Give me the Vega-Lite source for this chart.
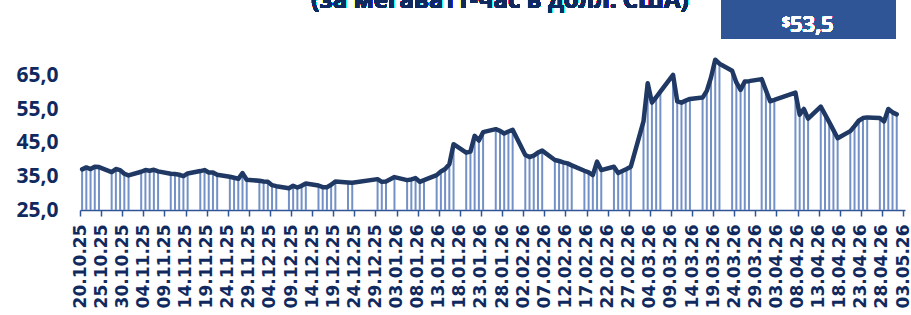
{
  "$schema": "https://vega.github.io/schema/vega-lite/v6.json",
  "autosize": {"type": "none"},
  "padding": {"left": 80, "top": 59, "right": 6, "bottom": 105},
  "width": 825,
  "height": 151,
  "config": {"view": {"stroke": null}, "axis": {"labelOverlap": false, "labelSeparation": 0}},
  "data": {"values": [
    {"date": "2025-10-20", "value": 37.1}, {"date": "2025-10-21", "value": 37.7}, {"date": "2025-10-22", "value": 37.2}, {"date": "2025-10-23", "value": 37.9}, {"date": "2025-10-24", "value": 37.8},
    {"date": "2025-10-27", "value": 36.3}, {"date": "2025-10-28", "value": 37.2}, {"date": "2025-10-29", "value": 36.9}, {"date": "2025-10-30", "value": 35.8}, {"date": "2025-10-31", "value": 35.3},
    {"date": "2025-11-03", "value": 36.4}, {"date": "2025-11-04", "value": 36.9}, {"date": "2025-11-05", "value": 36.7}, {"date": "2025-11-06", "value": 37.0}, {"date": "2025-11-07", "value": 36.5},
    {"date": "2025-11-10", "value": 35.8}, {"date": "2025-11-11", "value": 35.7}, {"date": "2025-11-12", "value": 35.5}, {"date": "2025-11-13", "value": 35.1}, {"date": "2025-11-14", "value": 35.9},
    {"date": "2025-11-17", "value": 36.6}, {"date": "2025-11-18", "value": 36.9}, {"date": "2025-11-19", "value": 36.2}, {"date": "2025-11-20", "value": 36.2}, {"date": "2025-11-21", "value": 35.5},
    {"date": "2025-11-24", "value": 34.9}, {"date": "2025-11-25", "value": 34.6}, {"date": "2025-11-26", "value": 34.3}, {"date": "2025-11-27", "value": 36.0}, {"date": "2025-11-28", "value": 34.0},
    {"date": "2025-12-01", "value": 33.7}, {"date": "2025-12-02", "value": 33.5}, {"date": "2025-12-03", "value": 33.4}, {"date": "2025-12-04", "value": 32.4}, {"date": "2025-12-05", "value": 32.1},
    {"date": "2025-12-08", "value": 31.5}, {"date": "2025-12-09", "value": 32.2}, {"date": "2025-12-10", "value": 31.7}, {"date": "2025-12-11", "value": 32.2}, {"date": "2025-12-12", "value": 32.9},
    {"date": "2025-12-15", "value": 32.3}, {"date": "2025-12-16", "value": 31.8}, {"date": "2025-12-17", "value": 31.8}, {"date": "2025-12-18", "value": 32.5}, {"date": "2025-12-19", "value": 33.5},
    {"date": "2025-12-22", "value": 33.2}, {"date": "2025-12-23", "value": 33.1},
    {"date": "2025-12-29", "value": 34.2}, {"date": "2025-12-30", "value": 33.4}, {"date": "2025-12-31", "value": 33.5}, {"date": "2026-01-02", "value": 34.8},
    {"date": "2026-01-05", "value": 33.9}, {"date": "2026-01-06", "value": 34.1}, {"date": "2026-01-07", "value": 34.5}, {"date": "2026-01-08", "value": 33.4}, {"date": "2026-01-09", "value": 33.9},
    {"date": "2026-01-12", "value": 35.4}, {"date": "2026-01-13", "value": 36.5}, {"date": "2026-01-14", "value": 37.2}, {"date": "2026-01-15", "value": 38.6}, {"date": "2026-01-16", "value": 44.6},
    {"date": "2026-01-19", "value": 42.1}, {"date": "2026-01-20", "value": 42.4}, {"date": "2026-01-21", "value": 47.1}, {"date": "2026-01-22", "value": 45.7}, {"date": "2026-01-23", "value": 48.2},
    {"date": "2026-01-26", "value": 49.1}, {"date": "2026-01-27", "value": 48.6}, {"date": "2026-01-28", "value": 47.8}, {"date": "2026-01-29", "value": 48.4}, {"date": "2026-01-30", "value": 48.9},
    {"date": "2026-02-02", "value": 41.4}, {"date": "2026-02-03", "value": 40.8}, {"date": "2026-02-04", "value": 41.2}, {"date": "2026-02-05", "value": 42.1}, {"date": "2026-02-06", "value": 42.7},
    {"date": "2026-02-09", "value": 39.9}, {"date": "2026-02-10", "value": 39.6}, {"date": "2026-02-11", "value": 39.2}, {"date": "2026-02-12", "value": 38.9}, {"date": "2026-02-13", "value": 38.3},
    {"date": "2026-02-16", "value": 36.7}, {"date": "2026-02-17", "value": 36.2}, {"date": "2026-02-18", "value": 35.4}, {"date": "2026-02-19", "value": 39.4}, {"date": "2026-02-20", "value": 36.9},
    {"date": "2026-02-23", "value": 37.9}, {"date": "2026-02-24", "value": 36.0}, {"date": "2026-02-25", "value": 36.6}, {"date": "2026-02-26", "value": 37.2}, {"date": "2026-02-27", "value": 37.9},
    {"date": "2026-03-02", "value": 51.4}, {"date": "2026-03-03", "value": 62.8}, {"date": "2026-03-04", "value": 57.0}, {"date": "2026-03-05", "value": 58.6}, {"date": "2026-03-06", "value": 60.3},
    {"date": "2026-03-09", "value": 65.3}, {"date": "2026-03-10", "value": 57.4}, {"date": "2026-03-11", "value": 57.0}, {"date": "2026-03-12", "value": 57.6}, {"date": "2026-03-13", "value": 58.1},
    {"date": "2026-03-16", "value": 58.5}, {"date": "2026-03-17", "value": 60.5}, {"date": "2026-03-18", "value": 64.5}, {"date": "2026-03-19", "value": 69.8}, {"date": "2026-03-20", "value": 68.6},
    {"date": "2026-03-23", "value": 66.5}, {"date": "2026-03-24", "value": 63.0}, {"date": "2026-03-25", "value": 60.8}, {"date": "2026-03-26", "value": 63.3}, {"date": "2026-03-27", "value": 63.4},
    {"date": "2026-03-30", "value": 64.0}, {"date": "2026-03-31", "value": 60.7}, {"date": "2026-04-01", "value": 57.4}, {"date": "2026-04-02", "value": 57.8},
    {"date": "2026-04-07", "value": 60.0}, {"date": "2026-04-08", "value": 53.4}, {"date": "2026-04-09", "value": 55.1}, {"date": "2026-04-10", "value": 52.2},
    {"date": "2026-04-13", "value": 55.8}, {"date": "2026-04-14", "value": 53.5}, {"date": "2026-04-15", "value": 51.2}, {"date": "2026-04-16", "value": 48.8}, {"date": "2026-04-17", "value": 46.4},
    {"date": "2026-04-20", "value": 48.5}, {"date": "2026-04-21", "value": 50.0}, {"date": "2026-04-22", "value": 51.6}, {"date": "2026-04-23", "value": 52.4}, {"date": "2026-04-24", "value": 52.6},
    {"date": "2026-04-27", "value": 52.4}, {"date": "2026-04-28", "value": 51.4}, {"date": "2026-04-29", "value": 55.1}, {"date": "2026-04-30", "value": 54.1}, {"date": "2026-05-01", "value": 53.5}
  ]},
  "layer": [
    {
      "mark": {"type": "rule", "strokeWidth": 2, "color": "#7391c7"},
      "encoding": {
        "x": {
          "field": "date", "type": "temporal", "timeUnit": "utcyearmonthdate", "bandPosition": 0.5, "title": null,
          "scale": {"domain": [{"year": 2025, "month": 10, "date": 20, "utc": true}, {"year": 2026, "month": 5, "date": 3, "hours": 11, "utc": true}]},
          "axis": {
            "title": null,
            "tickCount": 200,
            "values": [
              {"year": 2025, "month": 10, "date": 20, "utc": true}, {"year": 2025, "month": 10, "date": 25, "utc": true}, {"year": 2025, "month": 10, "date": 30, "utc": true},
              {"year": 2025, "month": 11, "date": 4, "utc": true}, {"year": 2025, "month": 11, "date": 9, "utc": true}, {"year": 2025, "month": 11, "date": 14, "utc": true},
              {"year": 2025, "month": 11, "date": 19, "utc": true}, {"year": 2025, "month": 11, "date": 24, "utc": true}, {"year": 2025, "month": 11, "date": 29, "utc": true},
              {"year": 2025, "month": 12, "date": 4, "utc": true}, {"year": 2025, "month": 12, "date": 9, "utc": true}, {"year": 2025, "month": 12, "date": 14, "utc": true},
              {"year": 2025, "month": 12, "date": 19, "utc": true}, {"year": 2025, "month": 12, "date": 24, "utc": true}, {"year": 2025, "month": 12, "date": 29, "utc": true},
              {"year": 2026, "month": 1, "date": 3, "utc": true}, {"year": 2026, "month": 1, "date": 8, "utc": true}, {"year": 2026, "month": 1, "date": 13, "utc": true},
              {"year": 2026, "month": 1, "date": 18, "utc": true}, {"year": 2026, "month": 1, "date": 23, "utc": true}, {"year": 2026, "month": 1, "date": 28, "utc": true},
              {"year": 2026, "month": 2, "date": 2, "utc": true}, {"year": 2026, "month": 2, "date": 7, "utc": true}, {"year": 2026, "month": 2, "date": 12, "utc": true},
              {"year": 2026, "month": 2, "date": 17, "utc": true}, {"year": 2026, "month": 2, "date": 22, "utc": true}, {"year": 2026, "month": 2, "date": 27, "utc": true},
              {"year": 2026, "month": 3, "date": 4, "utc": true}, {"year": 2026, "month": 3, "date": 9, "utc": true}, {"year": 2026, "month": 3, "date": 14, "utc": true},
              {"year": 2026, "month": 3, "date": 19, "utc": true}, {"year": 2026, "month": 3, "date": 24, "utc": true}, {"year": 2026, "month": 3, "date": 29, "utc": true},
              {"year": 2026, "month": 4, "date": 3, "utc": true}, {"year": 2026, "month": 4, "date": 8, "utc": true}, {"year": 2026, "month": 4, "date": 13, "utc": true},
              {"year": 2026, "month": 4, "date": 18, "utc": true}, {"year": 2026, "month": 4, "date": 23, "utc": true}, {"year": 2026, "month": 4, "date": 28, "utc": true},
              {"year": 2026, "month": 5, "date": 3, "utc": true}
            ],
            "format": "%d.%m.%y",
            "labelAngle": 270,
            "labelAlign": "right",
            "labelBaseline": "middle",
            "labelFont": "DejaVu Sans",
            "labelFontWeight": "bold",
            "labelFontSize": 17,
            "labelColor": "#102a60",
            "labelPadding": 8,
            "labelOverlap": false,
            "labelSeparation": 0,
            "labelBound": false,
            "labelFlush": false,
            "domainColor": "#2F5597",
            "domainWidth": 1.5,
            "tickColor": "#2F5597",
            "tickWidth": 1.5,
            "tickSize": 6,
            "grid": false
          }
        },
        "y": {
          "field": "value", "type": "quantitative", "title": null,
          "scale": {"domain": [25, 70], "nice": false, "zero": false},
          "axis": {
            "title": null,
            "tickCount": 50,
            "values": [25, 35, 45, 55, 65],
            "labelExpr": "replace(format(datum.value, '.1f'), '.', ',')",
            "labelFont": "Open Sans",
            "labelFontWeight": "bold",
            "labelFontSize": 21,
            "labelColor": "#102a60",
            "labelPadding": 22,
            "labelOverlap": false,
            "labelFlush": false,
            "domain": false,
            "ticks": false,
            "grid": false
          }
        },
        "y2": {"datum": 25}
      }
    },
    {
      "mark": {"type": "line", "color": "#1F3864", "strokeWidth": 4.5, "strokeJoin": "round", "strokeCap": "round"},
      "encoding": {
        "x": {"field": "date", "type": "temporal", "timeUnit": "utcyearmonthdate", "bandPosition": 0.5, "title": null},
        "y": {"field": "value", "type": "quantitative", "title": null}
      }
    },
    {
      "mark": {"type": "rect", "color": "#2F5597"},
      "encoding": {
        "x": {"datum": {"year": 2026, "month": 3, "date": 21, "hours": 2, "utc": true}, "type": "temporal", "title": null},
        "x2": {"datum": {"year": 2026, "month": 5, "date": 1, "hours": 7, "utc": true}},
        "y": {"datum": 76, "type": "quantitative", "title": null},
        "y2": {"datum": 95}
      }
    },
    {
      "mark": {"type": "text", "text": "$", "color": "white", "font": "Open Sans", "fontWeight": "bold", "fontSize": 14, "align": "right", "baseline": "alphabetic"},
      "encoding": {
        "x": {"datum": {"year": 2026, "month": 4, "date": 6, "hours": 5, "utc": true}, "type": "temporal", "title": null},
        "y": {"datum": 79.5, "type": "quantitative", "title": null}
      }
    },
    {
      "mark": {"type": "text", "text": "53,5", "color": "white", "font": "Open Sans", "fontWeight": 600, "fontSize": 22, "align": "left", "baseline": "alphabetic"},
      "encoding": {
        "x": {"datum": {"year": 2026, "month": 4, "date": 6, "hours": 5, "utc": true}, "type": "temporal", "title": null},
        "y": {"datum": 78.1, "type": "quantitative", "title": null}
      }
    },
    {
      "mark": {"type": "text", "text": "(за мегаватт-час в долл. США)", "color": "#102a60", "font": "Open Sans", "fontWeight": "bold", "fontSize": 24, "align": "center", "baseline": "alphabetic"},
      "encoding": {
        "x": {"datum": {"year": 2026, "month": 1, "date": 27, "hours": 12, "utc": true}, "type": "temporal", "title": null},
        "y": {"datum": 85.2, "type": "quantitative", "title": null}
      }
    }
  ]
}
